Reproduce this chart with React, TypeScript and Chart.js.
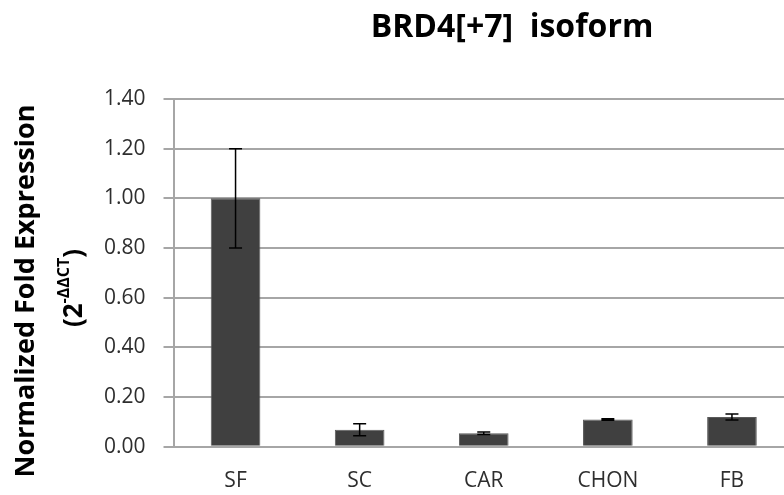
import React, { useEffect, useRef } from "react";
import { Chart, registerables } from "chart.js";

Chart.register(...registerables);

const categories = ["SF", "SC", "CAR", "CHON", "FB"];
const values = [1.0, 0.068, 0.054, 0.11, 0.12];
const errors = [0.2, 0.024, 0.005, 0.003, 0.012];
const yTicks = [0, 0.2, 0.4, 0.6, 0.8, 1.0, 1.2, 1.4];
const titleText = "BRD4[+7]  isoform";
const yTitleMain = "Normalized Fold Expression";
const yTitleBase = "(2";
const yTitleSup = "-ΔΔCT";
const yTitleEnd = ")";

const FONT = "'Open Sans', 'DejaVu Sans', sans-serif";

const errorBarPlugin = {
  id: "errorBars",
  afterDatasetsDraw(chart: any) {
    const { ctx, scales } = chart;
    const meta = chart.getDatasetMeta(0);
    const y = scales.y;
    ctx.save();
    ctx.strokeStyle = "#000";
    ctx.lineWidth = 1.5;
    meta.data.forEach((bar: any, i: number) => {
      const x = bar.x;
      const top = y.getPixelForValue(values[i] + errors[i]);
      const bot = y.getPixelForValue(values[i] - errors[i]);
      const cap = 6.5;
      ctx.beginPath();
      ctx.moveTo(x, top);
      ctx.lineTo(x, bot);
      ctx.moveTo(x - cap, top);
      ctx.lineTo(x + cap, top);
      ctx.moveTo(x - cap, bot);
      ctx.lineTo(x + cap, bot);
      ctx.stroke();
    });
    ctx.restore();
  },
};

const textPlugin = {
  id: "customText",
  afterDraw(chart: any) {
    const { ctx } = chart;
    ctx.save();
    // Title
    ctx.fillStyle = "#000";
    ctx.font = `bold 32px ${FONT}`;
    ctx.textAlign = "center";
    ctx.textBaseline = "alphabetic";
    ctx.fillText(titleText, 512, 37);

    // Y title line 1
    ctx.save();
    ctx.translate(34, 291);
    ctx.rotate(-Math.PI / 2);
    ctx.font = `bold 27px ${FONT}`;
    ctx.textAlign = "center";
    ctx.fillText(yTitleMain, 0, 0);
    ctx.restore();

    // Y title line 2 with superscript
    ctx.save();
    ctx.translate(82, 288);
    ctx.rotate(-Math.PI / 2);
    const big = `bold 26px ${FONT}`;
    const small = `bold 16px ${FONT}`;
    ctx.font = big;
    const w1 = ctx.measureText(yTitleBase).width;
    const w3 = ctx.measureText(yTitleEnd).width;
    ctx.font = small;
    const w2 = ctx.measureText(yTitleSup).width;
    const total = w1 + w2 + w3;
    let cx = -total / 2;
    ctx.textAlign = "left";
    ctx.font = big;
    ctx.fillText(yTitleBase, cx, 0);
    cx += w1;
    ctx.font = small;
    ctx.fillText(yTitleSup, cx, -13);
    cx += w2;
    ctx.font = big;
    ctx.fillText(yTitleEnd, cx, 0);
    ctx.restore();

    ctx.restore();
  },
};

export default function App() {
  const ref = useRef<HTMLCanvasElement>(null);
  useEffect(() => {
    if (!ref.current) return;
    const chart = new Chart(ref.current, {
      type: "bar",
      data: {
        labels: categories,
        datasets: [
          {
            data: values,
            backgroundColor: "#404040",
            borderColor: "#5a5a5a",
            borderWidth: 1,
            barPercentage: 0.4,
            categoryPercentage: 1.0,
          },
        ],
      },
      options: {
        animation: false,
        responsive: false,
        maintainAspectRatio: false,
        layout: { padding: { top: 99, left: 0, right: 0, bottom: 0 } },
        plugins: {
          legend: { display: false },
          title: { display: false },
          tooltip: { enabled: false },
        },
        scales: {
          x: {
            grid: { display: false, drawTicks: false },
            border: { display: true, color: "#a6a6a6", width: 2 },
            ticks: {
              color: "#2e2e2e",
              font: { family: FONT, size: 21 },
              padding: 22,
            },
            afterFit: (s: any) => {
              s.height = 48.3;
            },
          },
          y: {
            min: 0,
            max: 1.4,
            afterBuildTicks: (s: any) => {
              s.ticks = yTicks.map((v) => ({ value: v }));
            },
            grid: {
              color: "#a6a6a6",
              lineWidth: 2,
              tickLength: 10,
              tickColor: "#a6a6a6",
              drawTicks: true,
            },
            border: { display: true, color: "#a6a6a6", width: 2 },
            ticks: {
              color: "#2e2e2e",
              font: { family: FONT, size: 21 },
              padding: 18,
              callback: (v: any) => Number(v).toFixed(2),
            },
            afterFit: (s: any) => {
              s.width = 173.5;
            },
          },
        },
      },
      plugins: [errorBarPlugin, textPlugin],
    });
    return () => chart.destroy();
  }, []);
  return (
    <div
      style={{
        position: "fixed",
        left: 0,
        top: 0,
        width: 784,
        height: 495,
        overflow: "hidden",
        background: "#fff",
      }}
    >
      <canvas ref={ref} width={794} height={495} style={{ width: 794, height: 495, display: "block" }} />
    </div>
  );
}
